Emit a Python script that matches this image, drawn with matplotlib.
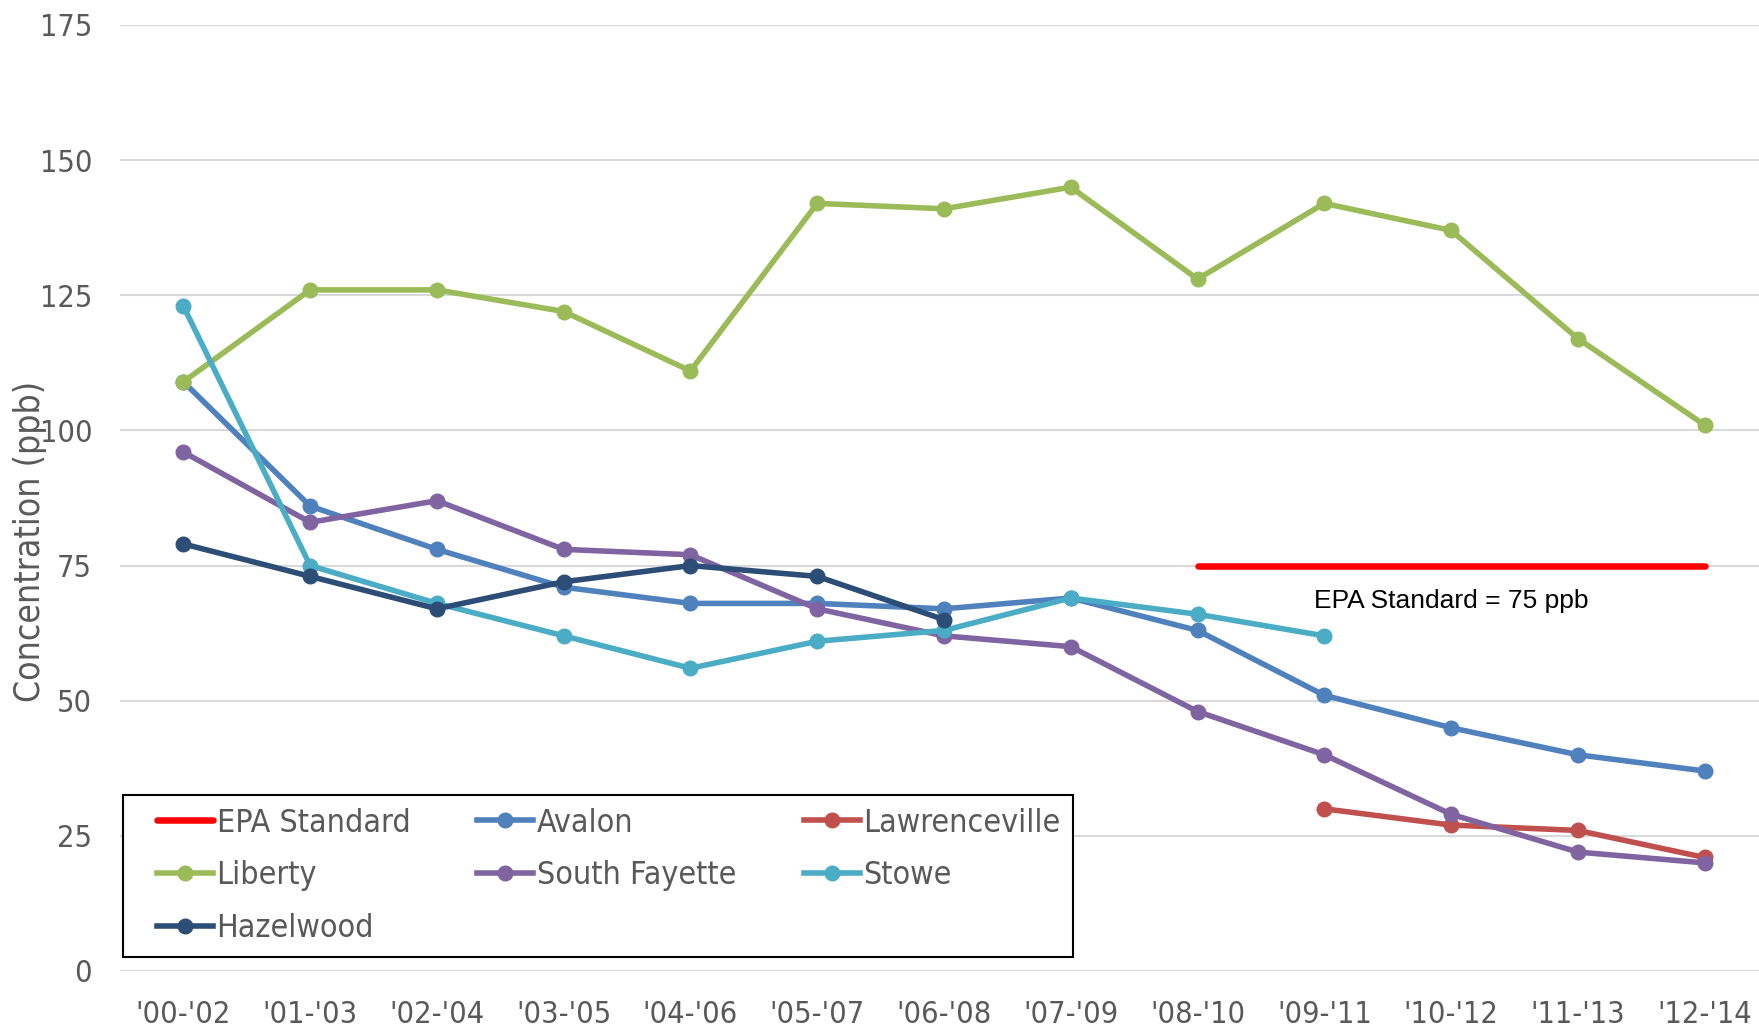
import numpy as np
import matplotlib
matplotlib.use("Agg")
import matplotlib.pyplot as plt
from matplotlib.legend_handler import HandlerLine2D

periods = ["'00-'02", "'01-'03", "'02-'04", "'03-'05", "'04-'06", "'05-'07", "'06-'08",
           "'07-'09", "'08-'10", "'09-'11", "'10-'12", "'11-'13", "'12-'14"]

nan = np.nan
epa = [nan, nan, nan, nan, nan, nan, nan, nan, 75, 75, 75, 75, 75]
avalon = [109, 86, 78, 71, 68, 68, 67, 69, 63, 51, 45, 40, 37]
lawrenceville = [nan, nan, nan, nan, nan, nan, nan, nan, nan, 30, 27, 26, 21]
liberty = [109, 126, 126, 122, 111, 142, 141, 145, 128, 142, 137, 117, 101]
south_fayette = [96, 83, 87, 78, 77, 67, 62, 60, 48, 40, 29, 22, 20]
stowe = [123, 75, 68, 62, 56, 61, 63, 69, 66, 62, nan, nan, nan]
hazelwood = [79, 73, 67, 72, 75, 73, 65, nan, nan, nan, nan, nan, nan]

series = [
    ("Avalon", avalon, "#4F81BD"),
    ("Lawrenceville", lawrenceville, "#C0504D"),
    ("Liberty", liberty, "#9BBB59"),
    ("South Fayette", south_fayette, "#8064A2"),
    ("Stowe", stowe, "#4BACC6"),
    ("Hazelwood", hazelwood, "#2C4D75"),
]

tick_color = "#595959"


class GapHandler(HandlerLine2D):
    # leave some blank space before the legend line, like Excel does
    def get_xdata(self, legend, xdescent, ydescent, width, height, fontsize):
        gap = 0.65 * fontsize
        xd = np.array([-xdescent + gap, -xdescent + width])
        return xd, np.array([xd.mean()])


fig = plt.figure(figsize=(17.59, 10.29), dpi=100)
ax = fig.add_axes([120 / 1759, 1 - 971 / 1029, 1648 / 1759, 946 / 1029])
x = np.arange(len(periods))

handles = {}
h, = ax.plot(x, epa, color="#FF0000", lw=4.7, solid_capstyle="round", label="EPA Standard", zorder=3)
handles["EPA Standard"] = h
for name, vals, col in series:
    h, = ax.plot(x, vals, color=col, lw=4, marker="o", ms=10.5, label=name, zorder=3)
    handles[name] = h

ax.text(10, 68.4, "EPA Standard = 75 ppb", ha="center", va="center",
        fontsize=19, family="Liberation Sans", color="black")

ax.set_xlim(-0.5, 12.5)
ax.set_ylim(0, 175)
ax.set_yticks(np.arange(0, 176, 25))
ax.set_xticks(x)
ax.set_xticklabels(periods)
ax.grid(axis="y", color="#D9D9D9", lw=1.5)
ax.set_axisbelow(True)
for s in ax.spines.values():
    s.set_visible(False)
ax.tick_params(length=0, colors=tick_color, labelsize=22)
ax.tick_params(axis="x", pad=21)
ax.tick_params(axis="y", pad=20)
for lab in ax.get_xticklabels() + ax.get_yticklabels():
    lab.set_fontstretch("condensed")

fig.text(30 / 1759, 1 - 541 / 1029, "Concentration (ppb)", rotation=90, ha="center",
         va="center", fontsize=25.5, color=tick_color, fontstretch="condensed")

# Excel fills the legend row by row, matplotlib column by column
order = ["EPA Standard", "Liberty", "Hazelwood", "Avalon", "South Fayette", "Lawrenceville", "Stowe"]
leg = ax.legend([handles[n] for n in order], order, ncol=3, loc="lower left",
                bbox_to_anchor=(0.002, 0.015), borderaxespad=0, fancybox=False,
                edgecolor="black", framealpha=1, handlelength=2.4, handletextpad=0.12,
                columnspacing=1.45, labelspacing=0.68, borderpad=0.4,
                handler_map={h: GapHandler() for h in handles.values()},
                prop={"size": 23, "stretch": "condensed"})
leg.get_frame().set_linewidth(1.5)
for t in leg.get_texts():
    t.set_color(tick_color)

fig.savefig("out.png", dpi=100)
